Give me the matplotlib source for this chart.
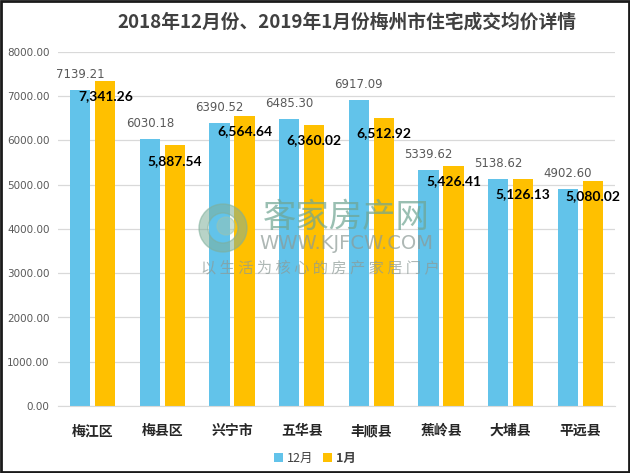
import matplotlib
matplotlib.use("Agg")
import matplotlib.pyplot as plt
import numpy as np
from matplotlib.patches import Circle, Wedge

plt.rcParams["font.family"] = ["Noto Sans CJK SC", "DejaVu Sans"]

districts = ["梅江区", "梅县区", "兴宁市", "五华县", "丰顺县", "蕉岭县", "大埔县", "平远县"]
dec_prices = [7139.21, 6030.18, 6390.52, 6485.30, 6917.09, 5339.62, 5138.62, 4902.60]
jan_prices = [7341.26, 5887.54, 6564.64, 6360.02, 6512.92, 5426.41, 5126.13, 5080.02]
yticks = [0, 1000, 2000, 3000, 4000, 5000, 6000, 7000, 8000]

BLUE = "#62C3EA"
GOLD = "#FFC000"

fig = plt.figure(figsize=(6.3, 4.73), dpi=100)
ax = fig.add_axes([58 / 630, 1 - 406 / 473, (615 - 58) / 630, (406 - 52) / 473])

x = np.arange(len(districts))
w = 0.29
off = 0.18
ax.bar(x - off, dec_prices, w, color=BLUE, zorder=2, label="12月")
ax.bar(x + off, jan_prices, w, color=GOLD, zorder=2, label="1月")

for xi, v in zip(x, dec_prices):
    ax.annotate(f"{v:.2f}", (xi - off, v), xytext=(0, 11), textcoords="offset points",
                ha="center", va="center", fontsize=8.5, color="#595959",
                family="DejaVu Sans", zorder=4)
for xi, v in zip(x, jan_prices):
    ax.annotate(f"{v:,.2f}", (xi + off, v), xytext=(0, -11), textcoords="offset points",
                ha="center", va="center", fontsize=10, color="black",
                fontweight="bold", family=["Lato", "DejaVu Sans"], zorder=4)

ax.set_xlim(-0.5, len(districts) - 0.5)
ax.set_ylim(0, 8000)
ax.set_yticks(yticks)
ax.set_yticklabels([f"{t:.2f}" for t in yticks], fontsize=7.5, color="#595959",
                   family="DejaVu Sans")
ax.set_xticks(x)
ax.set_xticklabels(districts, fontsize=10, fontweight="bold", color="#262626")
ax.tick_params(axis="both", length=0)
ax.tick_params(axis="y", pad=6)
ax.tick_params(axis="x", pad=13)
ax.grid(axis="y", color="#D9D9D9", lw=0.9, zorder=0)
for s in ["top", "right", "left"]:
    ax.spines[s].set_visible(False)
ax.spines["bottom"].set_color("#D9D9D9")

fig.text(347 / 630, 1 - 22 / 473, "2018年12月份、2019年1月份梅州市住宅成交均价详情",
         ha="center", va="center", fontsize=13.5, fontweight="bold", color="#404040")

leg = fig.legend(loc="center", bbox_to_anchor=(315 / 630, 1 - 458 / 473), ncol=2,
                 frameon=False, fontsize=9, handlelength=0.7, handleheight=0.7,
                 handletextpad=0.3, columnspacing=0.8)
for t in leg.get_texts():
    t.set_color("#404040")
leg.get_texts()[1].set_fontweight("bold")

# watermark
fig.patches.append(Wedge((223, 473 - 228), 24, 0, 360, width=9, transform=None,
                         color="#7FAF9A", alpha=0.55, zorder=5))
fig.patches.append(Circle((226, 473 - 226), 9, transform=None, color="#9CC4B0",
                          alpha=0.5, zorder=5))
fig.text(346 / 630, 1 - 217 / 473, "客家房产网", ha="center", va="center", fontsize=24,
         color="#6FA592", alpha=0.7, zorder=6)
fig.text(346 / 630, 1 - 243 / 473, "WWW.KJFCW.COM", ha="center", va="center",
         fontsize=14, color="#8C9A96", alpha=0.7, zorder=6, family="DejaVu Sans")
fig.text(320 / 630, 1 - 268 / 473, "以 生 活 为 核 心 的 房 产 家 居 门 户", ha="center",
         va="center", fontsize=11, color="#8C9A96", alpha=0.7, zorder=6)

# outer frame
fig.patches.append(plt.Rectangle((0.002, 0.002), 0.996, 0.996, transform=fig.transFigure,
                                 fill=False, ec="#1a1a1a", lw=2, zorder=10))

fig.savefig("out.png", dpi=100)
